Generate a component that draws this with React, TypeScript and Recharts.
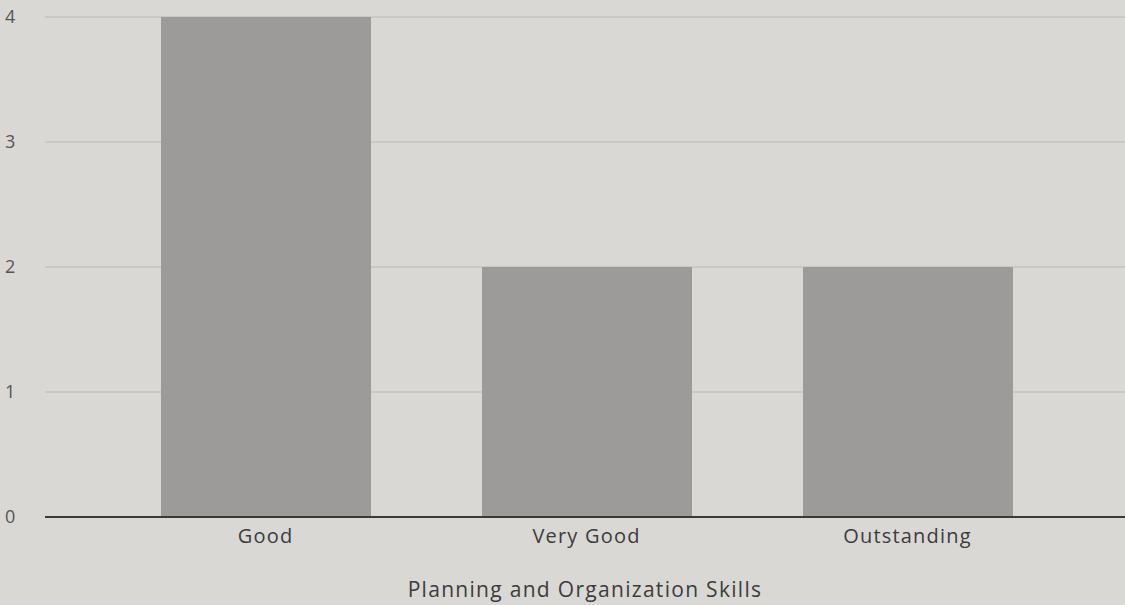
import React from 'react';
import { BarChart, Bar, CartesianGrid, XAxis, YAxis } from 'recharts';

const categories = ['Good', 'Very Good', 'Outstanding'];
const counts = [4, 2, 2];
const yTicks = [0, 1, 2, 3, 4];

const data = categories.map((name, i) => ({ name, count: counts[i] }));

const font = '"Open Sans", "Liberation Sans", sans-serif';

const App: React.FC = () => {
  return (
    <div style={{ position: 'absolute', left: 0, top: 0, width: 1125, height: 605, background: '#d9d8d5' }}>
      <BarChart
        width={1125}
        height={605}
        data={data}
        margin={{ top: 17, right: 0, bottom: 0, left: 0 }}
        barSize={210}
      >
        <CartesianGrid vertical={false} stroke="#c4c3c0" strokeWidth={1.5} />
        <XAxis
          dataKey="name"
          height={88}
          padding={{ left: 60, right: 57 }}
          axisLine={{ stroke: '#3a3a3a', strokeWidth: 2 }}
          tickLine={false}
          tick={{ fill: '#3c3c3c', fontSize: 20, fontFamily: font, letterSpacing: 1.2 }}
          dy={4}
          label={{
            value: 'Planning and Organization Skills',
            position: 'insideBottom',
            offset: 8,
            fill: '#3c3c3c',
            fontSize: 21,
            fontFamily: font,
            letterSpacing: 1.3,
          }}
        />
        <YAxis
          width={45}
          domain={[0, 4]}
          ticks={yTicks}
          axisLine={false}
          tickLine={false}
          tick={{ fill: '#555', fontSize: 18, fontFamily: font, textAnchor: 'start' }}
          dx={-32}
        />
        <Bar dataKey="count" fill="#9c9b99" isAnimationActive={false} />
      </BarChart>
    </div>
  );
};

export default App;
